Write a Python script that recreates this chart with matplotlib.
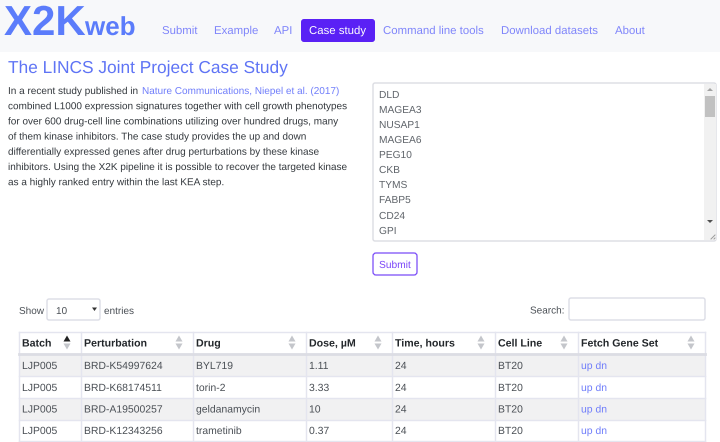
import matplotlib
matplotlib.use("Agg")
import matplotlib.pyplot as plt
import matplotlib.patheffects as pe
from matplotlib.patches import Rectangle, FancyBboxPatch, Polygon

plt.rcParams['font.family'] = ['Liberation Sans', 'DejaVu Sans']
plt.rcParams['text.hinting'] = 'none'
plt.rcParams['path.effects'] = [pe.Normal()]  # draws text as paths, keeps baselines even

# Page content
nav_labels = ["Submit", "Example", "API", "Case study", "Command line tools", "Download datasets", "About"]
nav_x = [162, 214, 274, 309, 383, 501, 615]
title = "The LINCS Joint Project Case Study"
para_lines = [
    "In a recent study published in",
    "combined L1000 expression signatures together with cell growth phenotypes",
    "for over 600 drug-cell line combinations utilizing over hundred drugs, many",
    "of them kinase inhibitors. The case study provides the up and down",
    "differentially expressed genes after drug perturbations by these kinase",
    "inhibitors. Using the X2K pipeline it is possible to recover the targeted kinase",
    "as a highly ranked entry within the last KEA step.",
]
para_link = "Nature Communications, Niepel et al. (2017)"
genes = ["DLD", "MAGEA3", "NUSAP1", "MAGEA6", "PEG10", "CKB", "TYMS", "FABP5", "CD24", "GPI"]
gene_y = [98, 113, 128, 143, 158, 173, 188, 203, 219, 234]

columns = ["Batch", "Perturbation", "Drug", "Dose, µM", "Time, hours", "Cell Line", "Fetch Gene Set"]
col_edges = [19, 81, 193, 306, 392, 495, 578, 705]
batch = ["LJP005", "LJP005", "LJP005", "LJP005"]
perturbation = ["BRD-K54997624", "BRD-K68174511", "BRD-A19500257", "BRD-K12343256"]
drug = ["BYL719", "torin-2", "geldanamycin", "trametinib"]
dose = ["1.11", "3.33", "10", "0.37"]
time_h = ["24", "24", "24", "24"]
cell_line = ["BT20", "BT20", "BT20", "BT20"]
fetch = ["up dn", "up dn", "up dn", "up dn"]
row_edges = [354, 376, 398, 420, 441]
row_base = [369, 391, 412.5, 434]

link = "#6f7dfb"
dark = "#4a4f55"
line = "#e4e5ef"
px = 0.72  # font points per css pixel at dpi 100


def box(ax, x0, y0, x1, y1, fc="white", ec=line, lw=1.0, r=2):
    ax.add_patch(FancyBboxPatch((x0 + r, y0 + r), x1 - x0 - 2 * r, y1 - y0 - 2 * r,
                                boxstyle=f"round,pad={r},rounding_size={r}", fc=fc, ec=ec, lw=lw))


def sort_arrows(ax, x, y, up="#c4c6cb", down="#c4c6cb"):
    ax.add_patch(Polygon([(x - 3.5, y - 1), (x + 3.5, y - 1), (x, y - 7)], fc=up, ec="none"))
    ax.add_patch(Polygon([(x - 3.5, y + 1), (x + 3.5, y + 1), (x, y + 7)], fc=down, ec="none"))


fig = plt.figure(figsize=(7.2, 4.42), dpi=100)
ax = fig.add_axes([0, 0, 1, 1])
ax.set_xlim(0, 720)
ax.set_ylim(442, 0)
ax.axis("off")

# navbar
ax.add_patch(Rectangle((0, 0), 720, 52, fc="#f7f8fa", ec="none"))
ax.text(4, 35, "X2K", color="#5b7cfb", fontsize=42 * px, weight="bold", va="baseline")
ax.text(85, 35, "web", color="#5b7cfb", fontsize=26 * px, weight="bold", va="baseline")
box(ax, 301, 19, 375, 42, fc="#5a21f5", ec="none", r=3)
for name, x in zip(nav_labels, nav_x):
    ax.text(x, 34, name, color="white" if name == "Case study" else "#7f85fb",
            fontsize=11.4 * px, va="baseline")

ax.text(8, 73, title, color="#5f74f5", fontsize=17.3 * px, va="baseline")

# paragraph
for i, s in enumerate(para_lines):
    ax.text(8, 94 + i * 15.2, s, color="#33383d", fontsize=10 * px, va="baseline")
ax.text(142, 94, para_link, color=link, fontsize=10 * px, va="baseline")

# gene textarea
box(ax, 373, 83, 716, 241, ec="#dcdde3")
ax.add_patch(Rectangle((704, 84), 12, 156, fc="#f1f1f1", ec="none"))
ax.add_patch(Rectangle((705, 96), 10, 21, fc="#c1c1c1", ec="none"))
ax.add_patch(Polygon([(707, 91), (713, 91), (710, 88)], fc="#a3a3a3", ec="none"))
ax.add_patch(Polygon([(707, 220), (713, 220), (710, 223)], fc="#505050", ec="none"))
ax.plot([711, 715], [239, 235], color="#9a9a9a", lw=0.7)
ax.plot([714, 715], [239, 238], color="#9a9a9a", lw=0.7)
for g, y in zip(genes, gene_y):
    ax.text(379, y, g, color="#5f646a", fontsize=10.2 * px, va="baseline")

box(ax, 373, 253, 417, 275, ec="#7a4cf8", lw=0.9, r=3)
ax.text(395, 268, "Submit", color="#7b46f9", fontsize=10.2 * px, va="baseline", ha="center")

# table controls
ax.text(19, 314, "Show", color=dark, fontsize=10 * px, va="baseline")
box(ax, 47, 299, 100, 320, ec="#dcdde6")
ax.text(56, 314, "10", color=dark, fontsize=10 * px, va="baseline")
ax.add_patch(Polygon([(92, 307.5), (97, 307.5), (94.5, 311)], fc="#333333", ec="none"))
ax.text(104, 314, "entries", color=dark, fontsize=10 * px, va="baseline")
ax.text(530, 313.5, "Search:", color=dark, fontsize=10 * px, va="baseline")
box(ax, 569, 298, 705, 320, ec="#dcdde6")

# table
rows = list(zip(batch, perturbation, drug, dose, time_h, cell_line, fetch))
for i, row in enumerate(rows):
    y0, y1 = row_edges[i], row_edges[i + 1]
    ax.add_patch(Rectangle((19, y0), 686, y1 - y0, fc="#f1f1f2" if i % 2 == 0 else "white", ec="none"))
    for j, val in enumerate(row):
        ax.text(col_edges[j] + 3, row_base[i], val, color=link if j == 6 else dark,
                fontsize=10.4 * px, va="baseline")
    ax.plot([19, 705], [y1, y1], color=line, lw=1)
for j, name in enumerate(columns):
    ax.text(col_edges[j] + 3, 346.5, name, color="#23272b", fontsize=10.6 * px, weight="bold", va="baseline")
    if j == 0:
        sort_arrows(ax, col_edges[1] - 14, 342.5, up="#222222", down="#c4c6cb")
    else:
        sort_arrows(ax, col_edges[j + 1] - 14, 342.5)
for x in col_edges:
    ax.plot([x, x], [332, 441], color=line, lw=1)
ax.plot([19, 705], [332, 332], color=line, lw=1)
ax.plot([19, 705], [353.5, 353.5], color="#dcdde4", lw=2)

fig.savefig("out.png", dpi=100)
